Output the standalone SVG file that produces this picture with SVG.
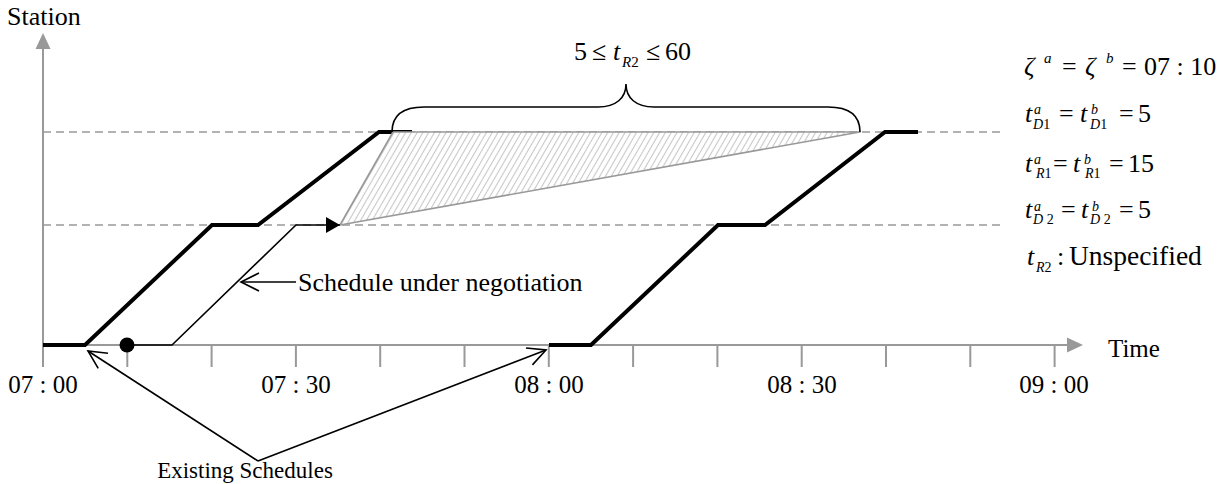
<svg xmlns="http://www.w3.org/2000/svg" width="1224" height="484" viewBox="0 0 1224 484">
<style>
.txt{font-family:"Liberation Serif","Times New Roman",serif;fill:#000}
.it{font-style:italic}
.axis{stroke:#999;stroke-width:2;fill:none}
.dash{stroke:#999;stroke-width:1.5;stroke-dasharray:8 5;fill:none}
.thick{stroke:#000;stroke-width:4;fill:none;stroke-linejoin:miter}
.thin{stroke:#000;stroke-width:1.6;fill:none}
.conn{stroke:#000;stroke-width:1.6;fill:none}
</style>
<defs>
<marker id="axArrow" markerUnits="userSpaceOnUse" markerWidth="17" markerHeight="16" refX="0" refY="7.5" orient="auto" overflow="visible">
<path d="M0,0 L16,7.5 L0,15 z" fill="#999"/>
</marker>
<marker id="openArrow" markerUnits="userSpaceOnUse" markerWidth="20" markerHeight="20" refX="18" refY="9" orient="auto" overflow="visible">
<path d="M0,0 L18,9 L0,18" fill="none" stroke="#000" stroke-width="1.6"/>
</marker>
<marker id="solidArrow" markerUnits="userSpaceOnUse" markerWidth="16" markerHeight="16" refX="14" refY="8" orient="auto" overflow="visible">
<path d="M0,0 L14,8 L0,16 z" fill="#000"/>
</marker>
<pattern id="hatch" width="5" height="5" patternUnits="userSpaceOnUse" patternTransform="rotate(30)">
<rect width="5" height="5" fill="#fff"/>
<line x1="2.5" y1="0" x2="2.5" y2="5" stroke="#c8c8c8" stroke-width="1.1"/>
</pattern>
</defs>

<g id="axes">
<line class="axis" x1="43" y1="367" x2="43" y2="49" marker-end="url(#axArrow)"/>
<line class="axis" x1="43" y1="345" x2="1067" y2="345" marker-end="url(#axArrow)"/>
<g class="axis">
<line x1="127.3" y1="345" x2="127.3" y2="367"/>
<line x1="211.6" y1="345" x2="211.6" y2="367"/>
<line x1="295.9" y1="345" x2="295.9" y2="367"/>
<line x1="380.2" y1="345" x2="380.2" y2="367"/>
<line x1="464.5" y1="345" x2="464.5" y2="367"/>
<line x1="548.8" y1="345" x2="548.8" y2="367"/>
<line x1="633.1" y1="345" x2="633.1" y2="367"/>
<line x1="717.4" y1="345" x2="717.4" y2="367"/>
<line x1="801.7" y1="345" x2="801.7" y2="367"/>
<line x1="886" y1="345" x2="886" y2="367"/>
<line x1="970.3" y1="345" x2="970.3" y2="367"/>
<line x1="1054.6" y1="345" x2="1054.6" y2="367"/>
</g>
<text class="txt" x="7" y="25" font-size="26">Station</text>
<text class="txt" x="1108" y="357" font-size="25">Time</text>
<g class="txt" font-size="25" text-anchor="middle">
<text x="43" y="393">07 : 00</text>
<text x="296" y="393">07 : 30</text>
<text x="549" y="393">08 : 00</text>
<text x="802" y="393">08 : 30</text>
<text x="1054" y="393">09 : 00</text>
</g>
</g>

<g id="station-lines">
<line class="dash" x1="43" y1="132" x2="1003" y2="132"/>
<line class="dash" x1="43" y1="225" x2="1003" y2="225"/>
</g>

<g id="existing-schedule-1">
<polyline class="thick" points="43,345 85,345 212,225 258,225 379,132 412,132"/>
</g>

<g id="existing-schedule-2">
<polyline class="thick" points="549,345 591,345 718,225 765,225 885,132 918,132"/>
</g>

<g id="feasible-region">
<polygon points="340,225 393,132 860,132" fill="url(#hatch)" stroke="#999" stroke-width="1.6" stroke-linejoin="round"/>
</g>

<g id="negotiation-schedule">
<polyline class="thin" points="127,345 172,345 296,225 340,225" marker-end="url(#solidArrow)"/>
<circle cx="127" cy="345" r="7.5" fill="#000"/>
</g>

<g id="brace">
<path d="M392,132 C392,117 401,107 424,107 L598,107 C616,107 626,98 626,84 C626,98 636,107 654,107 L828,107 C851,107 860,117 860,132" fill="none" stroke="#000" stroke-width="1.6"/>
<text class="txt" font-size="26" y="60"><tspan x="574">5</tspan><tspan x="592">≤</tspan><tspan x="613" class="it">t</tspan><tspan x="622" y="67" font-size="15" class="it">R</tspan><tspan y="67" font-size="15">2</tspan><tspan x="646" y="60">≤</tspan><tspan x="665">60</tspan></text>
</g>

<g id="connectors">
<line class="conn" x1="296" y1="282" x2="241" y2="282" marker-end="url(#openArrow)"/>
<line class="conn" x1="258" y1="461" x2="88" y2="351" marker-end="url(#openArrow)"/>
<line class="conn" x1="258" y1="461" x2="546" y2="350" marker-end="url(#openArrow)"/>
</g>

<g id="labels">
<text class="txt" x="298" y="291" font-size="26">Schedule under negotiation</text>
<text class="txt" x="245" y="478" font-size="23" text-anchor="middle">Existing Schedules</text>
</g>

<g id="parameters" class="txt">
<text font-size="26" y="75"><tspan x="1024" class="it">ζ</tspan><tspan x="1044" y="63" font-size="15" class="it">a</tspan><tspan x="1062" y="75">=</tspan><tspan x="1085" class="it">ζ</tspan><tspan x="1106" y="63" font-size="15" class="it">b</tspan><tspan x="1122" y="75">=</tspan><tspan x="1144">07 : 10</tspan></text>

<text font-size="26" y="122"><tspan x="1025" class="it">t</tspan><tspan x="1034" y="114" font-size="14" class="it">a</tspan><tspan x="1033" y="129" font-size="14" class="it">D</tspan><tspan y="129" font-size="14">1</tspan><tspan x="1059" y="122">=</tspan><tspan x="1080" class="it">t</tspan><tspan x="1091" y="114" font-size="14" class="it">b</tspan><tspan x="1090" y="129" font-size="14" class="it">D</tspan><tspan y="129" font-size="14">1</tspan><tspan x="1119" y="122">=</tspan><tspan x="1138">5</tspan></text>

<text font-size="26" y="172"><tspan x="1025" class="it">t</tspan><tspan x="1034" y="164" font-size="14" class="it">a</tspan><tspan x="1036" y="178" font-size="14" class="it">R</tspan><tspan y="178" font-size="14">1</tspan><tspan x="1053" y="172">=</tspan><tspan x="1073" class="it">t</tspan><tspan x="1084" y="164" font-size="14" class="it">b</tspan><tspan x="1085" y="178" font-size="14" class="it">R</tspan><tspan y="178" font-size="14">1</tspan><tspan x="1109" y="172">=</tspan><tspan x="1128">15</tspan></text>

<text font-size="26" y="218"><tspan x="1025" class="it">t</tspan><tspan x="1034" y="211" font-size="14" class="it">a</tspan><tspan x="1033" y="224" font-size="14" class="it">D</tspan><tspan y="224" font-size="14"> 2</tspan><tspan x="1061" y="218">=</tspan><tspan x="1081" class="it">t</tspan><tspan x="1092" y="211" font-size="14" class="it">b</tspan><tspan x="1090" y="224" font-size="14" class="it">D</tspan><tspan y="224" font-size="14"> 2</tspan><tspan x="1119" y="218">=</tspan><tspan x="1138">5</tspan></text>

<text font-size="26" y="265"><tspan x="1027" class="it">t</tspan><tspan x="1036" y="272" font-size="14" class="it">R</tspan><tspan y="272" font-size="14">2</tspan><tspan x="1057" y="265">:</tspan><tspan x="1069" font-size="27.5">Unspecified</tspan></text>
</g>
</svg>
